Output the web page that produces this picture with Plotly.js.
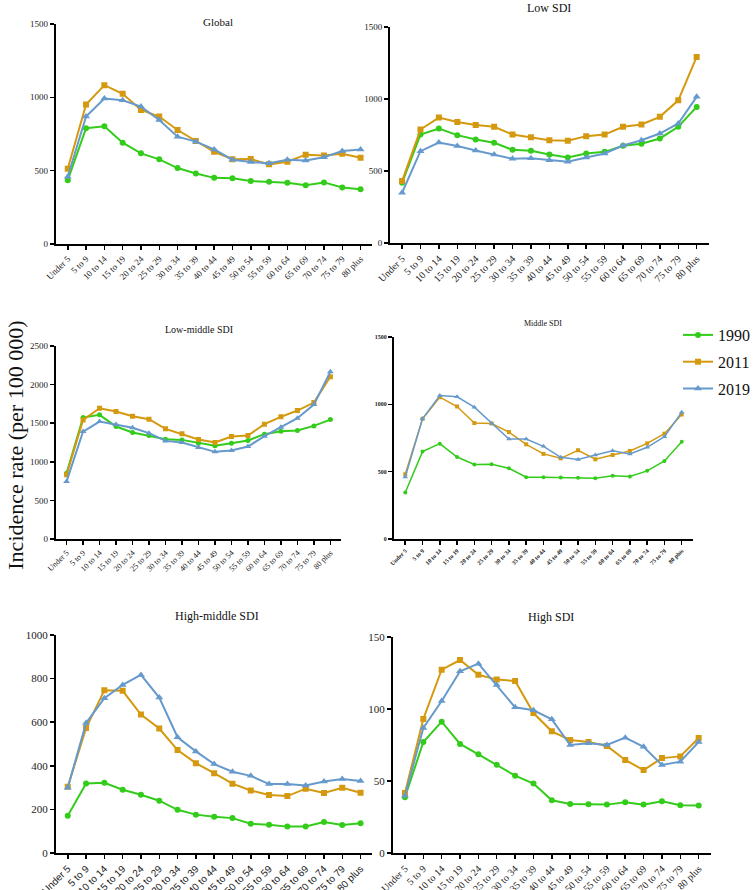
<!DOCTYPE html>
<html>
<head>
<meta charset="utf-8">
<script src="https://cdn.plot.ly/plotly-3.0.1.min.js"></script>
<style>body{margin:0;background:#fff}#chart{width:755px;height:890px}</style>
</head>
<body>
<div id="chart"></div>
<script>
// age groups on x
var ageGroups = ['Under 5', '5 to 9', '10 to 14', '15 to 19', '20 to 24', '25 to 29', '30 to 34', '35 to 39',
  '40 to 44', '45 to 49', '50 to 54', '55 to 59', '60 to 64', '65 to 69', '70 to 74', '75 to 79', '80 plus'];
var years = ['1990', '2011', '2019'];

// incidence per 100 000
var global1990 = [435, 789, 802, 691, 618, 577, 518, 481, 451, 449, 429, 424, 417, 401, 420, 385, 374];
var global2011 = [513, 951, 1083, 1024, 914, 869, 777, 702, 629, 577, 579, 543, 561, 609, 604, 616, 588];
var global2019 = [458, 869, 992, 980, 937, 846, 732, 698, 645, 575, 559, 550, 575, 570, 591, 634, 645];

var low1990 = [418, 753, 795, 749, 719, 696, 647, 640, 615, 594, 622, 633, 675, 689, 726, 807, 945];
var low2011 = [430, 788, 871, 841, 820, 807, 753, 735, 714, 710, 742, 753, 807, 823, 876, 991, 1292];
var low2019 = [349, 638, 698, 673, 642, 615, 585, 589, 575, 564, 594, 622, 677, 714, 760, 830, 1015];

var lowMid1990 = [853, 1573, 1608, 1457, 1379, 1340, 1293, 1284, 1241, 1207, 1241, 1276, 1358, 1396, 1405, 1465, 1547];
var lowMid2011 = [832, 1543, 1694, 1651, 1590, 1552, 1427, 1362, 1289, 1250, 1327, 1340, 1487, 1582, 1664, 1767, 2103];
var lowMid2019 = [746, 1392, 1521, 1483, 1440, 1371, 1271, 1250, 1185, 1129, 1146, 1198, 1332, 1448, 1565, 1741, 2168];

var mid1990 = [345, 649, 708, 609, 553, 555, 525, 459, 459, 456, 454, 451, 469, 464, 506, 580, 723];
var mid2011 = [481, 893, 1053, 984, 861, 858, 794, 703, 632, 599, 659, 592, 624, 654, 710, 782, 925];
var mid2019 = [461, 893, 1066, 1056, 979, 858, 743, 743, 688, 607, 590, 624, 656, 632, 681, 760, 942];

var highMid1990 = [171, 319, 322, 290, 267, 240, 198, 176, 166, 160, 134, 130, 121, 122, 142, 128, 136];
var highMid2011 = [304, 573, 747, 744, 635, 571, 472, 412, 366, 318, 287, 266, 261, 295, 275, 299, 276];
var highMid2019 = [299, 596, 710, 771, 817, 713, 531, 466, 408, 373, 354, 316, 316, 310, 328, 339, 330];

var high1990 = [38.7, 77.1, 91.2, 75.7, 68.5, 61.3, 53.7, 48.2, 36.6, 34.0, 33.8, 33.6, 35.2, 33.6, 35.9, 33.1, 32.9];
var high2011 = [41.7, 93.1, 127.3, 134.0, 123.8, 120.4, 119.5, 97.2, 84.5, 78.5, 77.1, 74.3, 64.6, 57.6, 65.9, 67.1, 79.9];
var high2019 = [39.8, 86.8, 105.6, 126.2, 131.5, 116.7, 101.2, 99.1, 92.8, 75.0, 76.2, 75.0, 80.1, 73.8, 61.1, 63.4, 77.1];

var colors = ['#33cc1a', '#d4990f', '#6699cc'];
var symbols = ['circle', 'square', 'triangle-up'];
var serif = 'Liberation Serif';
var sans = 'Liberation Sans';

var W = 755, H = 890;
// box = axis lines in px: x0, x1, yTop, yBottom; ttl = title x, y, size
var panels = [
  {title: 'Global', data: [global1990, global2011, global2019], ymax: 1500, dtick: 500,
   box: [57, 380, 24, 244], tf: 9, tfam: serif, ttl: [222, 22, 11], ms: 6},
  {title: 'Low SDI', data: [low1990, low2011, low2019], ymax: 1500, dtick: 500,
   box: [398, 723, 27, 243], tf: 10, tfam: serif, ttl: [560, 8, 12], ms: 6},
  {title: 'Low-middle SDI', data: [lowMid1990, lowMid2011, lowMid2019], ymax: 2500, dtick: 500,
   box: [57, 348, 346, 539], tf: 8, tfam: serif, ttl: [203, 329, 10], ms: 5},
  {title: 'Middle SDI', data: [mid1990, mid2011, mid2019], ymax: 1500, dtick: 500,
   box: [402, 707, 337, 539], tf: 6, tfam: serif, ttl: [554, 323, 8], ms: 4},
  {title: 'High-middle SDI', data: [highMid1990, highMid2011, highMid2019], ymax: 1000, dtick: 200,
   box: [57, 380, 635, 853], tf: 10, tfam: sans, ytf: 11, ttl: [221, 616, 12], ms: 6},
  {title: 'High SDI', data: [high1990, high2011, high2019], ymax: 150, dtick: 50,
   box: [401, 725, 637, 853], tf: 10, tfam: serif, ytf: 11, ttl: [562, 617, 12], ms: 6}
];

var traces = [];
var layout = {
  width: W, height: H,
  margin: {l: 0, r: 0, t: 0, b: 0},
  paper_bgcolor: '#fff', plot_bgcolor: 'rgba(0,0,0,0)',
  font: {family: serif, color: '#111'},
  showlegend: true,
  legend: {x: 692 / W, y: 1 - 318 / H, xanchor: 'left', yanchor: 'top',
    font: {family: serif, size: 16, color: '#111'}, itemwidth: 30,
    traceorder: 'grouped', tracegroupgap: 3, borderwidth: 0,
    bgcolor: 'rgba(0,0,0,0)'},
  annotations: [],
  hovermode: false
};

panels.forEach(function (p, i) {
  var n = i + 1;
  var xa = n === 1 ? 'x' : 'x' + n;
  var ya = n === 1 ? 'y' : 'y' + n;
  p.data.forEach(function (vals, k) {
    traces.push({
      x: ageGroups, y: vals, xaxis: xa, yaxis: ya,
      type: 'scatter', mode: 'lines+markers', name: years[k],
      legendgroup: years[k], showlegend: i === 0,
      line: {color: colors[k], width: i === 3 ? 1.5 : 2},
      marker: {color: colors[k], symbol: symbols[k], size: k === 2 ? p.ms + 1 : p.ms}
    });
  });
  var b = p.box;
  layout['xaxis' + (n === 1 ? '' : n)] = {
    domain: [b[0] / W, b[1] / W], anchor: ya,
    type: 'category', range: [-0.65, 16.65],
    showline: true, linecolor: '#000', linewidth: 2, showgrid: false, zeroline: false,
    ticks: 'outside', ticklen: 4, tickwidth: 1.5, tickcolor: '#000',
    tickangle: -45, tickfont: {size: p.tf, family: p.tfam, color: '#222',
      weight: i === 3 ? 'bold' : 'normal'}
  };
  layout['yaxis' + (n === 1 ? '' : n)] = {
    domain: [1 - b[3] / H, 1 - b[2] / H], anchor: xa,
    range: [0, p.ymax], dtick: p.dtick,
    showline: true, linecolor: '#000', linewidth: 2, showgrid: false, zeroline: false,
    ticks: 'outside', ticklen: 4, tickwidth: 1.5, tickcolor: '#000',
    tickfont: {size: p.ytf || (i === 3 ? 6 : 9), family: serif, color: '#222',
      weight: i === 3 ? 'bold' : 'normal'}
  };
  layout.annotations.push({
    text: p.title, xref: 'paper', yref: 'paper',
    x: p.ttl[0] / W, y: 1 - p.ttl[1] / H, xanchor: 'center', yanchor: 'middle',
    showarrow: false, font: {family: serif, size: p.ttl[2], color: '#111'}
  });
});

layout.annotations.push({
  text: 'Incidence rate (per 100 000)', xref: 'paper', yref: 'paper',
  x: 15 / W, y: 1 - 445 / H, xanchor: 'center', yanchor: 'middle', textangle: -90,
  showarrow: false, font: {family: serif, size: 22, color: '#111'}
});

Plotly.newPlot('chart', traces, layout, {displayModeBar: false, staticPlot: true});
</script>
</body>
</html>
